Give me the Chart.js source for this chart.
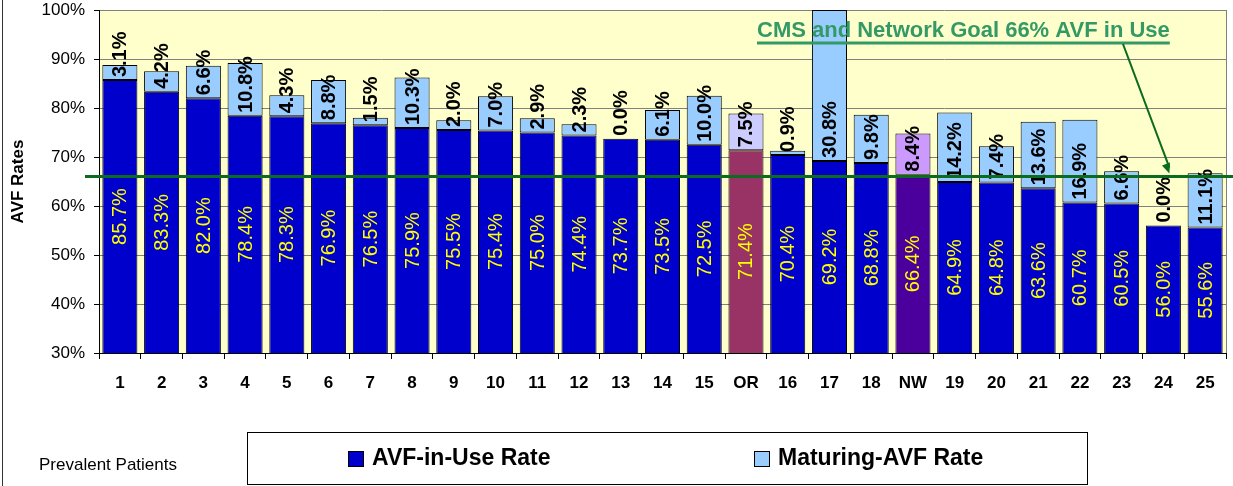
<!DOCTYPE html>
<html>
<head>
<meta charset="utf-8">
<script src="https://cdn.jsdelivr.net/npm/chart.js@4.4.1/dist/chart.umd.min.js"></script>
<style>
  html, body { margin: 0; padding: 0; background: #fff; }
  canvas { display: block; }
</style>
</head>
<body>
<canvas id="avfChart" width="1233" height="486"></canvas>
<script>
// data
const categories = ['1', '2', '3', '4', '5', '6', '7', '8', '9', '10', '11', '12', '13', '14', '15',
  'OR', '16', '17', '18', 'NW', '19', '20', '21', '22', '23', '24', '25'];
const avfInUse = [85.7, 83.3, 82.0, 78.4, 78.3, 76.9, 76.5, 75.9, 75.5, 75.4, 75.0, 74.4, 73.7, 73.5, 72.5,
  71.4, 70.4, 69.2, 68.8, 66.4, 64.9, 64.8, 63.6, 60.7, 60.5, 56.0, 55.6];
const maturingAvf = [3.1, 4.2, 6.6, 10.8, 4.3, 8.8, 1.5, 10.3, 2.0, 7.0, 2.9, 2.3, 0.0, 6.1, 10.0,
  7.5, 0.9, 30.8, 9.8, 8.4, 14.2, 7.4, 13.6, 16.9, 6.6, 0.0, 11.1];
const seriesNames = ['AVF-in-Use Rate', 'Maturing-AVF Rate'];
const goalRate = 66;
const goalText = 'CMS and Network Goal 66% AVF in Use';
const footNote = 'Prevalent Patients';
const yMin = 30, yMax = 100, yStep = 10;

const FONT = '"Liberation Sans", Arial, Helvetica, sans-serif';

const inUseColor = c => c === 'OR' ? '#993366' : c === 'NW' ? '#4B009E' : '#0000CC';
const maturingColor = c => c === 'OR' ? '#CCCCFF' : c === 'NW' ? '#CC99FF' : '#99CCFF';

const plotBackground = {
  id: 'plotBackground',
  beforeDraw(chart) {
    const { ctx, chartArea: a } = chart;
    ctx.save();
    ctx.fillStyle = '#FFFFCC';
    ctx.fillRect(a.left, a.top, a.right - a.left, a.bottom - a.top);
    // outer frame line on the left
    ctx.strokeStyle = '#333';
    ctx.lineWidth = 1;
    ctx.beginPath();
    ctx.moveTo(2.5, 0);
    ctx.lineTo(2.5, chart.height);
    ctx.stroke();
    ctx.restore();
  },
  beforeDatasetsDraw(chart) {
    const { ctx, chartArea: a } = chart;
    ctx.save();
    ctx.strokeStyle = '#808080';
    ctx.lineWidth = 1;
    ctx.beginPath();
    ctx.moveTo(Math.round(a.right) + 0.5, a.top);
    ctx.lineTo(Math.round(a.right) + 0.5, a.bottom);
    ctx.stroke();
    ctx.restore();
  }
};

const valueLabels = {
  id: 'valueLabels',
  afterDatasetsDraw(chart) {
    const ctx = chart.ctx;
    const y = chart.scales.y;
    const base = y.getPixelForValue(yMin);
    chart.getDatasetMeta(0).data.forEach((bar, i) => {
      const top = y.getPixelForValue(avfInUse[i]);
      ctx.save();
      ctx.translate(bar.x, (top + base) / 2);
      ctx.rotate(-Math.PI / 2);
      ctx.font = '20px ' + FONT;
      ctx.fillStyle = '#FFFF00';
      ctx.textAlign = 'center';
      ctx.textBaseline = 'middle';
      ctx.fillText(avfInUse[i].toFixed(1) + '%', 0, 1);
      ctx.restore();

      ctx.save();
      ctx.translate(bar.x, top - 3);
      ctx.rotate(-Math.PI / 2);
      ctx.font = 'bold 20px ' + FONT;
      ctx.fillStyle = '#000';
      ctx.textAlign = 'left';
      ctx.textBaseline = 'middle';
      ctx.fillText(maturingAvf[i].toFixed(1) + '%', 0, 1);
      ctx.restore();
    });
  }
};

const goalAndLegend = {
  id: 'goalAndLegend',
  afterDraw(chart) {
    const ctx = chart.ctx;
    const y = chart.scales.y;
    const x = chart.scales.x;
    const gy = y.getPixelForValue(goalRate);
    ctx.save();

    // goal line
    ctx.strokeStyle = '#0B6B1E';
    ctx.lineWidth = 3;
    ctx.beginPath();
    ctx.moveTo(85, gy);
    ctx.lineTo(chart.width, gy);
    ctx.stroke();

    // goal caption, underlined
    ctx.font = 'bold 22px ' + FONT;
    ctx.fillStyle = '#339966';
    ctx.textAlign = 'left';
    ctx.textBaseline = 'middle';
    ctx.fillText(goalText, 757, 31);
    const w = ctx.measureText(goalText).width;
    ctx.strokeStyle = '#339966';
    ctx.lineWidth = 3;
    ctx.beginPath();
    ctx.moveTo(757, 43);
    ctx.lineTo(757 + w, 43);
    ctx.stroke();

    // arrow to the goal line
    const ax0 = 1123, ay0 = 44;
    const ax1 = x.getPixelForValue(25) + 6, ay1 = gy - 3;
    ctx.strokeStyle = '#0B6B1E';
    ctx.fillStyle = '#0B6B1E';
    ctx.lineWidth = 2;
    ctx.beginPath();
    ctx.moveTo(ax0, ay0);
    ctx.lineTo(ax1, ay1 - 6);
    ctx.stroke();
    const ang = Math.atan2(ay1 - ay0, ax1 - ax0);
    ctx.beginPath();
    ctx.moveTo(ax1, ay1);
    ctx.lineTo(ax1 - 11 * Math.cos(ang - 0.4), ay1 - 11 * Math.sin(ang - 0.4));
    ctx.lineTo(ax1 - 11 * Math.cos(ang + 0.4), ay1 - 11 * Math.sin(ang + 0.4));
    ctx.closePath();
    ctx.fill();

    // legend box
    ctx.strokeStyle = '#000';
    ctx.lineWidth = 1;
    ctx.strokeRect(247.5, 432.5, 840, 52);
    const items = [
      { x: 348, color: chart.data.datasets[0].backgroundColor[0], text: seriesNames[0] },
      { x: 754, color: chart.data.datasets[1].backgroundColor[0], text: seriesNames[1] }
    ];
    ctx.font = 'bold 23px ' + FONT;
    ctx.textBaseline = 'middle';
    items.forEach(it => {
      ctx.fillStyle = it.color;
      ctx.fillRect(it.x, 451, 15, 15);
      ctx.strokeRect(it.x + 0.5, 451.5, 15, 15);
      ctx.fillStyle = '#000';
      ctx.fillText(it.text, it.x + 24, 459);
    });

    ctx.font = '17px ' + FONT;
    ctx.fillText(footNote, 39, 465);
    ctx.restore();
  }
};

new Chart(document.getElementById('avfChart').getContext('2d'), {
  type: 'bar',
  data: {
    labels: categories,
    datasets: [{
      label: seriesNames[0],
      data: avfInUse,
      backgroundColor: categories.map(inUseColor),
      borderColor: '#000',
      borderWidth: 1,
      borderSkipped: false
    }, {
      label: seriesNames[1],
      data: maturingAvf,
      backgroundColor: categories.map(maturingColor),
      borderColor: '#000',
      borderWidth: 1,
      borderSkipped: false
    }]
  },
  options: {
    responsive: false,
    animation: false,
    layout: { padding: { top: 10, right: 7, left: 0, bottom: 0 } },
    datasets: { bar: { categoryPercentage: 1, barPercentage: 0.84 } },
    plugins: {
      legend: { display: false },
      tooltip: { enabled: false }
    },
    scales: {
      x: {
        stacked: true,
        grid: { offset: true, drawOnChartArea: false, color: '#000', tickLength: 6 },
        border: { color: '#000' },
        ticks: { color: '#000', padding: 14, font: { family: FONT, size: 17, weight: 'bold' } },
        afterFit: s => { s.height = 133; }
      },
      y: {
        stacked: true,
        min: yMin,
        max: yMax,
        ticks: {
          stepSize: yStep,
          color: '#000',
          padding: 9,
          font: { family: FONT, size: 17 },
          callback: v => v + '%'
        },
        grid: { color: '#808080', tickColor: '#000', tickLength: 5 },
        border: { color: '#000' },
        title: {
          display: true,
          text: 'AVF Rates',
          color: '#000',
          padding: { top: 8, bottom: 0 },
          font: { family: FONT, size: 17, weight: 'bold' }
        },
        afterFit: s => { s.width = 99; s.paddingTop = 0; s.paddingBottom = 0; }
      }
    }
  },
  plugins: [plotBackground, valueLabels, goalAndLegend]
});
</script>
</body>
</html>
